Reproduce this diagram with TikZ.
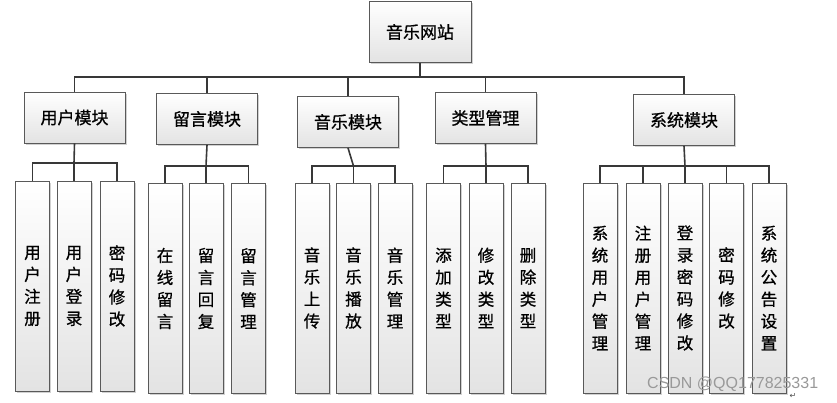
\documentclass[tikz,border=0pt]{standalone}
\usepackage{fontspec}
\newfontfamily\cjk{Noto Sans CJK SC}[FakeBold=0.8]
\newfontfamily\wmfont{Liberation Sans}
\newfontfamily\symfont{DejaVu Sans}
\usetikzlibrary{shadows}
\tikzset{
  boxbase/.style={draw=black!65, line width=0.8pt, top color=white, bottom color=black!11,
    drop shadow={shadow xshift=1.6pt, shadow yshift=-1.6pt, fill=black!30, opacity=0.6},
    inner sep=0pt, align=center},
  rootbox/.style={boxbase, minimum width=102pt, minimum height=61pt, font=\cjk\fontsize{17}{20}\selectfont},
  modbox/.style={boxbase, minimum width=101pt, minimum height=51pt, font=\cjk\fontsize{17}{20}\selectfont},
  leafbox/.style={boxbase, minimum width=34pt, minimum height=210pt, font=\cjk\fontsize{16.5}{22}\selectfont},
  conn/.style={draw=black!78, line width=1.6pt},
}
\begin{document}
\begin{tikzpicture}[x=1pt, y=-1pt]
\useasboundingbox (0,0) rectangle (837,402);
% root
\node[rootbox] (root) at (420,32) {音乐网站};
% modules
\node[modbox] (m1) at (74.5,117.5) {用户模块};
\node[modbox] (m2) at (207,119) {留言模块};
\node[modbox] (m3) at (348,122) {音乐模块};
\node[modbox] (m4) at (485.5,118) {类型管理};
\node[modbox] (m5) at (684,120) {系统模块};
% leaves
\node[leafbox] (c11) at (32.5,286) {用\\户\\注\\册};
\node[leafbox] (c12) at (74,286) {用\\户\\登\\录};
\node[leafbox] (c13) at (117,286) {密\\码\\修\\改};
\node[leafbox] (c21) at (165,288.5) {在\\线\\留\\言};
\node[leafbox] (c22) at (206,288.5) {留\\言\\回\\复};
\node[leafbox] (c23) at (248.5,288.5) {留\\言\\管\\理};
\node[leafbox] (c31) at (312,288) {音\\乐\\上\\传};
\node[leafbox] (c32) at (353.5,288) {音\\乐\\播\\放};
\node[leafbox] (c33) at (395,288) {音\\乐\\管\\理};
\node[leafbox] (c41) at (443.5,288) {添\\加\\类\\型};
\node[leafbox] (c42) at (486,288) {修\\改\\类\\型};
\node[leafbox] (c43) at (528,288) {删\\除\\类\\型};
\node[leafbox] (c51) at (600,288) {系\\统\\用\\户\\管\\理};
\node[leafbox] (c52) at (643,288) {注\\册\\用\\户\\管\\理};
\node[leafbox] (c53) at (685,288) {登\\录\\密\\码\\修\\改};
\node[leafbox] (c54) at (726.5,288) {密\\码\\修\\改};
\node[leafbox] (c55) at (769,288) {系\\统\\公\\告\\设\\置};
% bus coordinates
\coordinate (t) at (420,77);
\coordinate (b1) at (74,163);
\coordinate (b2) at (206,166);
\coordinate (b3) at (353.5,166);
\coordinate (b4) at (486,166);
\coordinate (b5) at (685,166);
% top level connectors
\draw[conn] (root.south) -- (t);
\draw[conn] (m1.north) |- (t) -| (m5.north);
\draw[conn] (m2.north) -- (m2.north |- t);
\draw[conn] (m3.north) -- (m3.north |- t);
\draw[conn] (m4.north) -- (m4.north |- t);
% group 1
\draw[conn] (m1.south) -- (b1);
\draw[conn] (c11.north) |- (b1) -| (c13.north);
\draw[conn] (c12.north) -- (b1);
% group 2
\draw[conn] (m2.south) -- (b2);
\draw[conn] (c21.north) |- (b2) -| (c23.north);
\draw[conn] (c22.north) -- (b2);
% group 3
\draw[conn] (m3.south) -- (b3);
\draw[conn] (c31.north) |- (b3) -| (c33.north);
\draw[conn] (c32.north) -- (b3);
% group 4
\draw[conn] (m4.south) -- (b4);
\draw[conn] (c41.north) |- (b4) -| (c43.north);
\draw[conn] (c42.north) -- (b4);
% group 5
\draw[conn] (m5.south) -- (b5);
\draw[conn] (c51.north) |- (b5) -| (c55.north);
\draw[conn] (c52.north) -- (c52.north |- b5);
\draw[conn] (c53.north) -- (b5);
\draw[conn] (c54.north) -- (c54.north |- b5);
% watermark
\node[anchor=base west, inner sep=0pt, text=black!40, font=\wmfont\fontsize{16}{16}\selectfont] (wm) at (647,388) {CSDN @QQ177825331};
\node[anchor=center, inner sep=0pt, text=black!70, font=\symfont\fontsize{8}{8}\selectfont] (ret) at (793,396) {↵};
\end{tikzpicture}
\end{document}
